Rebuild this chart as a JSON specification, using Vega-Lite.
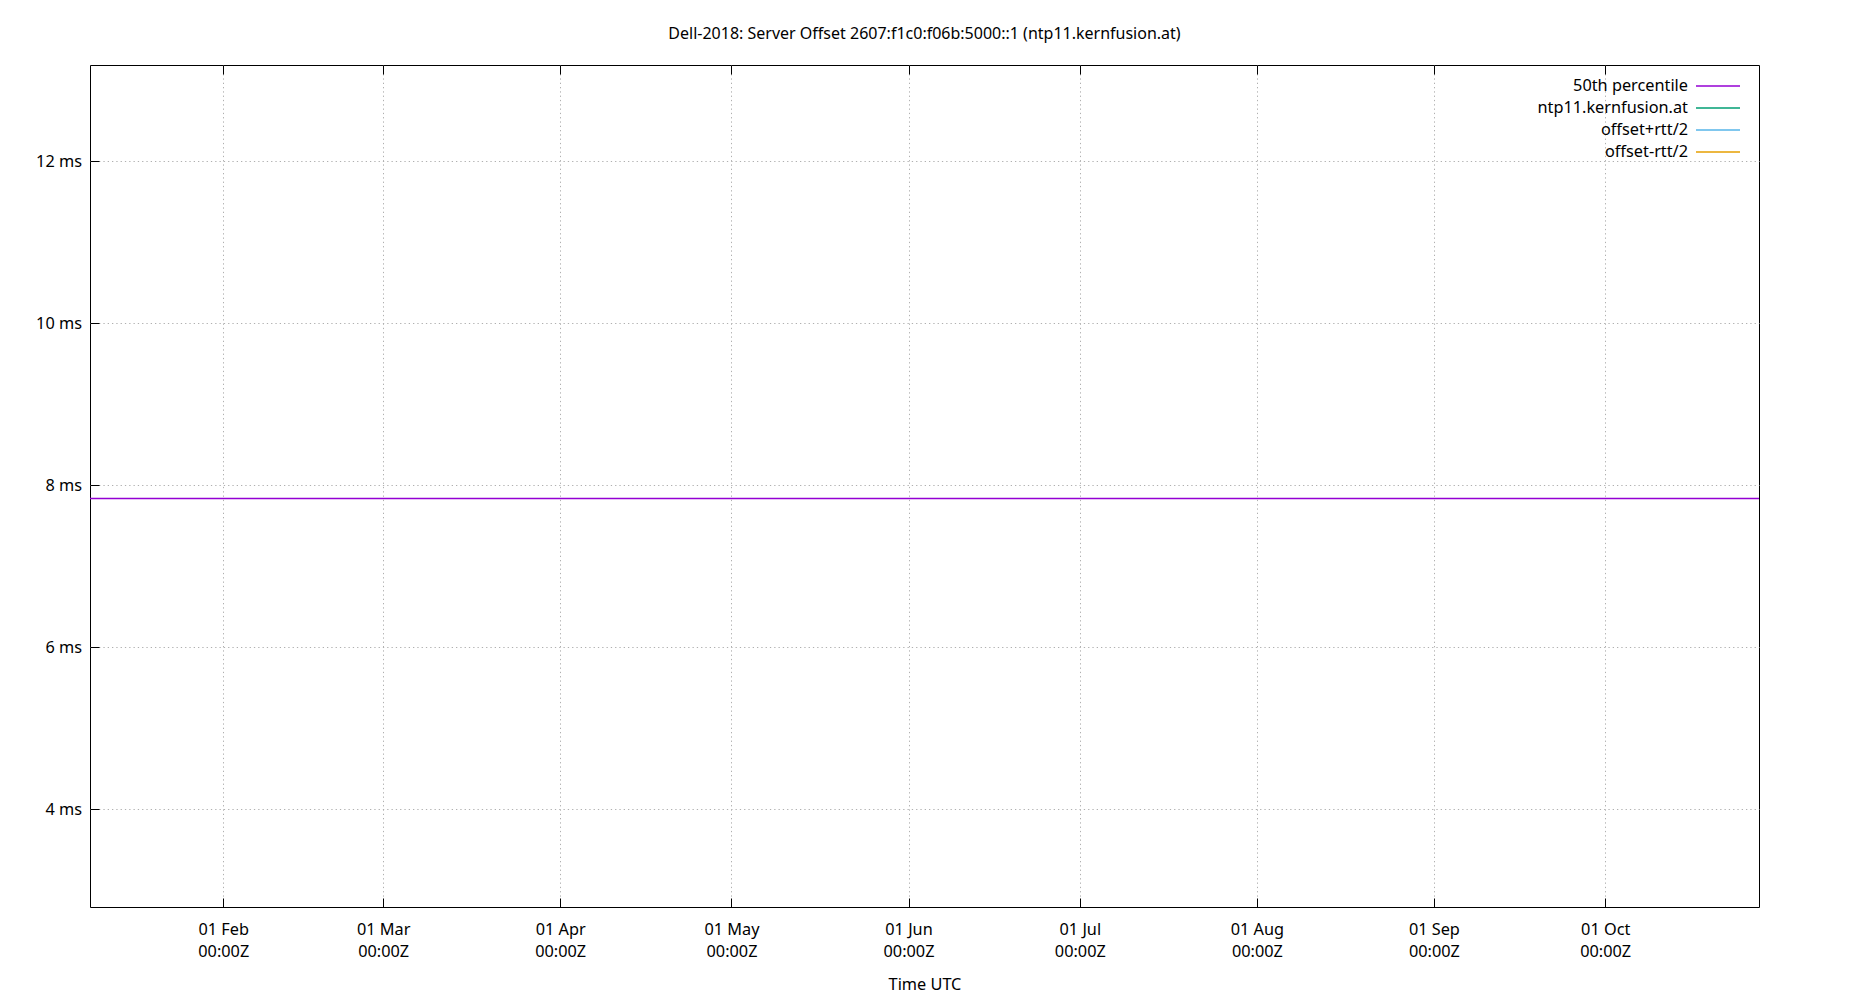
{
  "$schema": "https://vega.github.io/schema/vega-lite/v6.json",
  "autosize": {"type": "none"},
  "padding": {"left": 90, "top": 65, "right": 91, "bottom": 93},
  "width": 1669,
  "height": 842,
  "title": {
    "text": "Dell-2018: Server Offset 2607:f1c0:f06b:5000::1 (ntp11.kernfusion.at)",
    "fontSize": 16,
    "fontWeight": "normal",
    "font": "Noto Sans",
    "color": "#000000",
    "offset": 23
  },
  "data": {
    "values": [
      {"time": "2025-01-08T16:00:00Z", "series": "50th percentile", "offset_ms": 7.836},
      {"time": "2025-10-27T22:20:00Z", "series": "50th percentile", "offset_ms": 7.836}
    ]
  },
  "resolve": {"axis": {"x": "independent"}},
  "layer": [
    {
      "mark": {"type": "line", "strokeWidth": 1.4, "clip": true},
      "encoding": {
        "x": {
          "field": "time",
          "type": "temporal",
          "scale": {
            "type": "utc",
            "domain": [
              {"year": 2025, "month": 1, "date": 8, "hours": 16, "utc": true},
              {"year": 2025, "month": 10, "date": 27, "hours": 22, "minutes": 20, "utc": true}
            ]
          },
          "axis": {
            "title": "Time UTC",
            "offset": -9,
            "values": [
              {"year": 2025, "month": 2, "date": 1, "utc": true},
              {"year": 2025, "month": 3, "date": 1, "utc": true},
              {"year": 2025, "month": 4, "date": 1, "utc": true},
              {"year": 2025, "month": 5, "date": 1, "utc": true},
              {"year": 2025, "month": 6, "date": 1, "utc": true},
              {"year": 2025, "month": 7, "date": 1, "utc": true},
              {"year": 2025, "month": 8, "date": 1, "utc": true},
              {"year": 2025, "month": 9, "date": 1, "utc": true},
              {"year": 2025, "month": 10, "date": 1, "utc": true}
            ],
            "labelExpr": "[utcFormat(datum.value, '%d %b'), '00:00Z']",
            "labelLineHeight": 22,
            "labelPadding": 14,
            "titlePadding": 17,
            "grid": true
          }
        },
        "y": {
          "field": "offset_ms",
          "type": "quantitative",
          "scale": {"domain": [2.794, 13.185], "nice": false, "zero": false},
          "axis": {
            "title": null,
            "offset": -9,
            "values": [4, 6, 8, 10, 12],
            "labelExpr": "datum.value + ' ms'",
            "labelPadding": 8.5,
            "grid": true
          }
        },
        "color": {
          "field": "series",
          "type": "nominal",
          "scale": {
            "domain": ["50th percentile", "ntp11.kernfusion.at", "offset+rtt/2", "offset-rtt/2"],
            "range": ["#9400d3", "#009e73", "#56b4e9", "#e69f00"]
          },
          "legend": {
            "title": null,
            "orient": "none",
            "legendX": 1616,
            "legendY": 9,
            "symbolType": "M-2,0H2",
            "symbolSize": 484,
            "symbolStrokeWidth": 1.3,
            "rowPadding": 1,
            "labelAlign": "right",
            "labelOffset": -42,
            "labelFontSize": 16.3,
            "labelFont": "Noto Sans",
            "labelColor": "#000000"
          }
        }
      }
    },
    {
      "mark": {"type": "line", "opacity": 0},
      "encoding": {
        "x": {
          "field": "time",
          "type": "temporal",
          "axis": {
            "orient": "top",
            "offset": -9,
            "labels": false,
            "title": null,
            "grid": false,
            "values": [
              {"year": 2025, "month": 2, "date": 1, "utc": true},
              {"year": 2025, "month": 3, "date": 1, "utc": true},
              {"year": 2025, "month": 4, "date": 1, "utc": true},
              {"year": 2025, "month": 5, "date": 1, "utc": true},
              {"year": 2025, "month": 6, "date": 1, "utc": true},
              {"year": 2025, "month": 7, "date": 1, "utc": true},
              {"year": 2025, "month": 8, "date": 1, "utc": true},
              {"year": 2025, "month": 9, "date": 1, "utc": true},
              {"year": 2025, "month": 10, "date": 1, "utc": true}
            ]
          }
        },
        "y": {"field": "offset_ms", "type": "quantitative"}
      }
    }
  ],
  "config": {
    "font": "Noto Sans",
    "view": {"stroke": "#000000", "strokeWidth": 1},
    "axis": {
      "domain": false,
      "tickColor": "#000000",
      "tickSize": 9,
      "tickWidth": 1,
      "labelFont": "Noto Sans",
      "labelFontSize": 16.3,
      "labelColor": "#000000",
      "titleFont": "Noto Sans",
      "titleFontSize": 16.3,
      "titleFontWeight": "normal",
      "titleColor": "#000000",
      "gridColor": "#b0b0b0",
      "gridDash": [1.3, 3],
      "gridWidth": 1
    }
  }
}
